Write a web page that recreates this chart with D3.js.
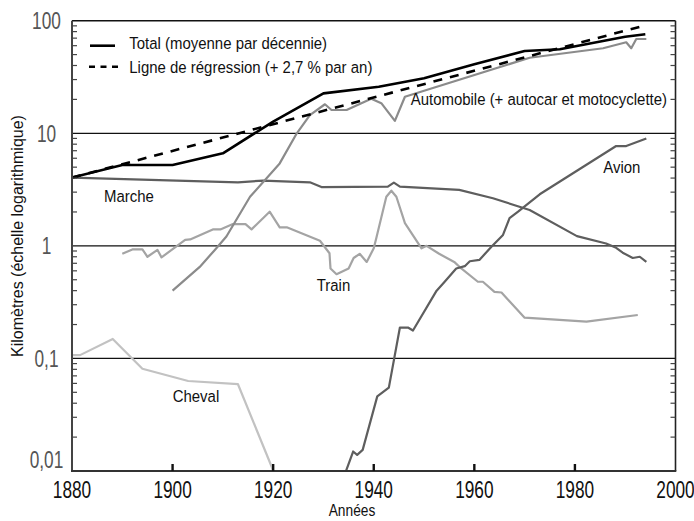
<!DOCTYPE html>
<html>
<head>
<meta charset="utf-8">
<script src="https://cdn.jsdelivr.net/npm/d3@7"></script>
<style>
  body { margin: 0; background: #fff; }
  text { font-family: "Liberation Sans", Arial, sans-serif; }
</style>
</head>
<body>
<svg id="chart" width="694" height="521"></svg>
<script>
// Values: [year, km per day]
const totalData = [[1880, 4.04], [1890, 5.23], [1900, 5.23], [1910, 6.64], [1920, 12.7], [1930, 22.6],
    [1941, 25.9], [1950, 30.8], [1960, 41], [1970, 53.8], [1977, 55.7], [1990, 72.1], [1994, 75.7]];

const regressionData = [[1880, 4.04], [1993.5, 89.7]];

const autoData = [[1900, 0.40], [1905.4, 0.65], [1908.4, 0.92], [1910.7, 1.21], [1915.4, 2.73], [1921.3, 5.4],
    [1924.7, 10], [1927.3, 14.5], [1930.3, 18.1], [1931.6, 16.1], [1934.6, 16.1], [1939.5, 20.3], [1941.5, 18.5],
    [1944.2, 12.9], [1946.2, 21.1], [1971, 46.9], [1985.6, 56.9], [1990.2, 64.3], [1991.2, 56.9], [1992.2, 68.8],
    [1994.2, 68.8]];

const marcheData = [[1880, 4.04], [1913, 3.67], [1918, 3.8], [1927.3, 3.67], [1929.6, 3.33], [1942.8, 3.36],
    [1944, 3.64], [1945.2, 3.36], [1957, 3.14], [1963.7, 2.65], [1971, 2.08], [1980.4, 1.22], [1986.2, 1.05],
    [1988.2, 0.96], [1989.5, 0.87], [1991.5, 0.78], [1992.9, 0.80], [1994.2, 0.72]];

const trainData = [[1890, 0.85], [1892, 0.93], [1894, 0.93], [1895, 0.80], [1897, 0.92], [1897.8, 0.79],
    [1902.5, 1.13], [1903.5, 1.14], [1908, 1.40], [1909.5, 1.40], [1912, 1.56], [1914.5, 1.56], [1915.7, 1.40],
    [1919.3, 2.01], [1921.3, 1.46], [1922.7, 1.46], [1929.3, 1.11], [1931.2, 0.86], [1931.4, 0.63], [1932.6, 0.56],
    [1935, 0.63], [1936, 0.78], [1937.2, 0.85], [1938.6, 0.72], [1940, 0.95], [1940.5, 1.17], [1942.5, 2.73],
    [1943.5, 3.09], [1944.5, 2.73], [1946.2, 1.59], [1949.5, 0.95], [1950.5, 1.0], [1953, 0.85], [1956, 0.72],
    [1957.4, 0.63], [1960.7, 0.48], [1961.7, 0.48], [1964, 0.39], [1965.4, 0.385], [1970, 0.23], [1982.3, 0.212],
    [1992.5, 0.243]];

const chevalData = [[1880, 0.107], [1881.6, 0.107], [1888.1, 0.149], [1894, 0.081], [1903.1, 0.063],
    [1913, 0.059], [1919.7, 0.0109], [1920, 0.0098]];

const avionData = [[1934.3, 0.0095], [1935.9, 0.0149], [1936.7, 0.0139], [1937.8, 0.0154], [1940.7, 0.046],
    [1943, 0.055], [1945.2, 0.188], [1946.8, 0.188], [1947.8, 0.177], [1952.5, 0.40], [1954.1, 0.48],
    [1956.4, 0.63], [1958.1, 0.66], [1959.1, 0.73], [1961, 0.75], [1963.4, 0.98], [1965.7, 1.25], [1967, 1.76],
    [1968.7, 2.01], [1973, 2.87], [1988.2, 7.7], [1990.2, 7.7], [1994.2, 9.0]];

const yearTicks = [1880, 1900, 1920, 1940, 1960, 1980, 2000];
const kmTicks = [0.01, 0.1, 1, 10, 100];
const kmTickLabels = ["0,01", "0,1", "1", "10", "100"];
const gridValues = [0.1, 1, 10];

const svg = d3.select("#chart");
const x = d3.scaleLinear().domain([1880, 2000]).range([72, 675.5]);
const y = d3.scaleLog().domain([0.01, 100]).range([471, 20.7]);
const [x0, x1] = x.range();
const [yB, yT] = y.range();

// Text helper: narrow look by squeezing a regular font horizontally
function label(parent, px, py, str, size, sx, anchor, fill) {
    parent.append("g")
        .attr("transform", `translate(${px},${py}) scale(${sx},1)`)
        .append("text")
        .attr("text-anchor", anchor || "start")
        .style("font-size", size + "px")
        .style("fill", fill || "#111")
        .text(str);
}

svg.append("defs").append("clipPath").attr("id", "plotClip")
    .append("rect").attr("x", x0).attr("y", yT).attr("width", x1 - x0).attr("height", yB - yT);

// Horizontal decade lines
svg.append("g").selectAll("line").data(gridValues).join("line")
    .attr("x1", x0).attr("x2", x1)
    .attr("y1", d => y(d)).attr("y2", d => y(d))
    .attr("stroke", "#111").attr("stroke-width", 1.3);

const line = d3.line().x(d => x(d[0])).y(d => y(d[1]));
const series = [
    { data: chevalData, color: "#c2c2c2", width: 2.2 },
    { data: trainData, color: "#a4a4a4", width: 2.2 },
    { data: marcheData, color: "#5e5e5e", width: 2.2 },
    { data: avionData, color: "#5e5e5e", width: 2.2 },
    { data: autoData, color: "#8b8b8b", width: 2.2 },
    { data: regressionData, color: "#000", width: 2.6, dash: "9,8" },
    { data: totalData, color: "#000", width: 2.6 }
];

const plot = svg.append("g").attr("clip-path", "url(#plotClip)");
plot.selectAll("path").data(series).join("path")
    .attr("d", d => line(d.data))
    .attr("fill", "none")
    .attr("stroke", d => d.color)
    .attr("stroke-width", d => d.width)
    .attr("stroke-dasharray", d => d.dash || null)
    .attr("stroke-linejoin", "round");

// Frame
const frame = svg.append("g");
frame.append("line").attr("x1", x0).attr("x2", x1).attr("y1", yT).attr("y2", yT)
    .attr("stroke", "#111").attr("stroke-width", 1.4);
frame.append("line").attr("x1", x1).attr("x2", x1).attr("y1", yT).attr("y2", yB)
    .attr("stroke", "#222").attr("stroke-width", 1.6);
frame.append("line").attr("x1", x0).attr("x2", x0).attr("y1", yT).attr("y2", yB)
    .attr("stroke", "#444").attr("stroke-width", 2);
frame.append("line").attr("x1", x0 - 1).attr("x2", x1 + 0.8).attr("y1", yB).attr("y2", yB)
    .attr("stroke", "#333").attr("stroke-width", 2);

// Minor log ticks, inside on both sides
const minor = [];
kmTicks.slice(0, -1).forEach(d => { for (let k = 2; k <= 9; k++) minor.push(d * k); });
frame.append("g").selectAll("line").data(minor).join("line")
    .attr("x1", x0).attr("x2", x0 + 5)
    .attr("y1", d => y(d)).attr("y2", d => y(d))
    .attr("stroke", "#444").attr("stroke-width", 1.2);
frame.append("g").selectAll("line").data(minor).join("line")
    .attr("x1", x1 - 5).attr("x2", x1)
    .attr("y1", d => y(d)).attr("y2", d => y(d))
    .attr("stroke", "#444").attr("stroke-width", 1.2);

// Year ticks pointing up from the bottom axis
frame.append("g").selectAll("line").data(yearTicks.slice(1, -1)).join("line")
    .attr("x1", d => x(d)).attr("x2", d => x(d))
    .attr("y1", yB).attr("y2", yB - 7)
    .attr("stroke", "#111").attr("stroke-width", 2.4);

// Tick labels
const labels = svg.append("g");
yearTicks.forEach(d => label(labels, x(d), 498, d, 23.5, 0.735, "middle", "#111"));
kmTicks.forEach((d, i) => {
    const off = i === 0 ? -3.5 : 8.4;
    label(labels, 46.5, y(d) + off, kmTickLabels[i], 23.5, 0.735, "middle", "#555");
});

// Axis titles
labels.append("text")
    .attr("transform", "translate(23,236) rotate(-90)")
    .attr("text-anchor", "middle")
    .style("font-size", "16px").style("fill", "#111")
    .text("Kilomètres (échelle logarithmique)");
label(labels, 352, 515.5, "Années", 16, 0.86, "middle");

// Legend
const legend = svg.append("g");
legend.append("line").attr("x1", 90).attr("x2", 115).attr("y1", 45.7).attr("y2", 45.7)
    .attr("stroke", "#000").attr("stroke-width", 2.6);
legend.append("line").attr("x1", 89).attr("x2", 119).attr("y1", 66.7).attr("y2", 66.7)
    .attr("stroke", "#000").attr("stroke-width", 2.6).attr("stroke-dasharray", "6,5.5");
label(legend, 129.3, 49, "Total (moyenne par décennie)", 17, 0.88);
label(legend, 129.3, 73.3, "Ligne de régression (+ 2,7 % par an)", 17, 0.88);

// Series names inside the plot
label(labels, 410.7, 105, "Automobile (+ autocar et motocyclette)", 17, 0.88);
label(labels, 104, 202.3, "Marche", 17, 0.88);
label(labels, 316.7, 290.7, "Train", 17, 0.88);
label(labels, 172.7, 402.3, "Cheval", 17, 0.88);
label(labels, 603.3, 172.7, "Avion", 17, 0.88);
</script>
</body>
</html>
